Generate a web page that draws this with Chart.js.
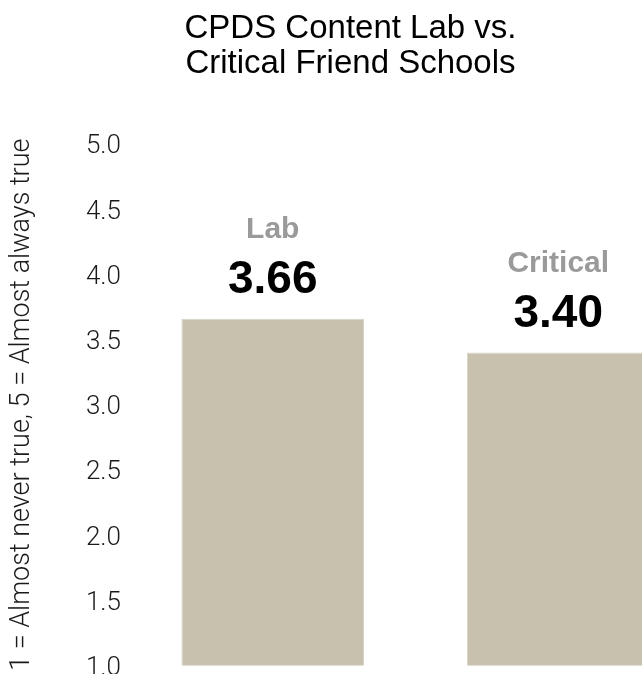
<!DOCTYPE html>
<html>
<head>
<meta charset="utf-8">
<script src="https://cdn.jsdelivr.net/npm/chart.js@4/dist/chart.umd.min.js"></script>
<style>
  html, body { margin: 0; padding: 0; background: #fff; overflow: hidden; }
  #wrap { position: absolute; left: 0; top: 0; width: 708px; height: 690px; }
</style>
</head>
<body>
<div id="wrap"><canvas id="c" width="708" height="690"></canvas></div>
<script>
// Survey means, 1-5 agreement scale
const categories = ['Lab', 'Critical'];
const meanScores = [3.66, 3.40];
const yTicks = [1.0, 1.5, 2.0, 2.5, 3.0, 3.5, 4.0, 4.5, 5.0];
const chartTitle = ['CPDS Content Lab vs.', 'Critical Friend Schools'];
const yAxisTitle = '1 = Almost never true, 5 = Almost always true';

const SANS = '"Liberation Sans", Arial, Helvetica, sans-serif';
const LIGHT = 'Roboto, "Liberation Sans", sans-serif';

// Group name and value printed above each bar
const barLabels = {
  id: 'barLabels',
  afterDatasetsDraw(chart) {
    const ctx = chart.ctx;
    const meta = chart.getDatasetMeta(0);
    ctx.save();
    ctx.textAlign = 'center';
    ctx.textBaseline = 'alphabetic';
    meta.data.forEach((bar, i) => {
      ctx.fillStyle = '#9a9a9a';
      ctx.font = 'bold 30px ' + SANS;
      ctx.fillText(categories[i], bar.x, bar.y - 81);
      ctx.fillStyle = '#000';
      ctx.font = 'bold 46px ' + SANS;
      ctx.fillText(meanScores[i].toFixed(2), bar.x, bar.y - 26);
    });
    ctx.restore();
  }
};

new Chart(document.getElementById('c'), {
  type: 'bar',
  data: {
    labels: categories,
    datasets: [{
      data: meanScores,
      backgroundColor: '#c8c1ae',
      borderColor: '#d8d3c6',
      borderWidth: 1,
      borderSkipped: false,
      categoryPercentage: 0.8,
      barPercentage: 0.8
    }]
  },
  options: {
    responsive: false,
    animation: false,
    devicePixelRatio: 1,
    layout: { padding: { left: 0, right: 7, top: 0, bottom: 24 } },
    plugins: {
      legend: { display: false },
      tooltip: { enabled: false },
      title: {
        display: true,
        text: chartTitle,
        color: '#000',
        font: { family: SANS, size: 33, weight: 'normal', lineHeight: 1.06 },
        padding: { top: 11, bottom: 63 }
      }
    },
    scales: {
      x: { display: false },
      y: {
        min: 1,
        max: 5,
        afterBuildTicks(scale) { scale.ticks = yTicks.map(v => ({ value: v })); },
        afterFit(scale) { scale.width = 130; },
        grid: { display: false, drawTicks: false },
        border: { display: false },
        ticks: {
          padding: 9,
          labelOffset: 3,
          color: '#1a1a1a',
          font: { family: LIGHT, size: 26, weight: '300' },
          callback: v => Number(v).toFixed(1)
        },
        title: {
          display: true,
          text: yAxisTitle,
          color: '#1a1a1a',
          font: { family: LIGHT, size: 27, weight: '300' },
          padding: { top: 6, bottom: 0 }
        }
      }
    }
  },
  plugins: [barLabels]
});
</script>
</body>
</html>
